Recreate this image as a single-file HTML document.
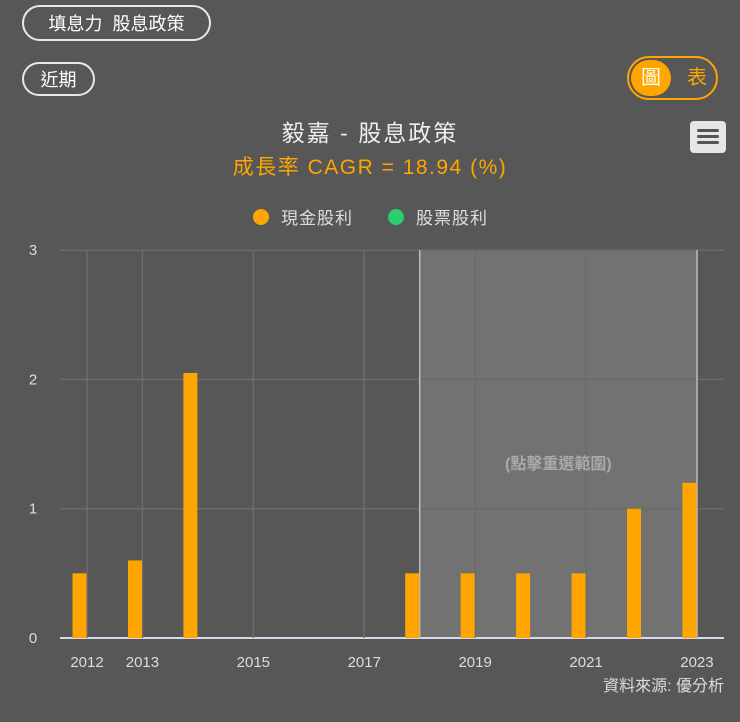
<!DOCTYPE html>
<html><head><meta charset="utf-8"><style>
body{margin:0;width:740px;height:722px;background:#575757;font-family:"Liberation Sans","Noto Sans CJK TC",sans-serif;overflow:hidden;position:relative;color:#fff}
.pill{position:absolute;border:2px solid #e8e8e8;border-radius:18px;color:#fff;font-size:18px;box-sizing:border-box;display:flex;align-items:center;justify-content:center}
</style></head><body>
<div class="pill" style="left:22px;top:5px;width:189px;height:36px">填息力&nbsp;&nbsp;股息政策</div>
<div class="pill" style="left:22px;top:62px;width:73px;height:34px">近期</div>
<div style="position:absolute;left:627px;top:56px;width:91px;height:44px;border:2px solid #ffa500;border-radius:22px;box-sizing:border-box">
 <div style="position:absolute;left:2px;top:2px;width:40px;height:36px;border-radius:18px;background:#ffa500;color:#fff;font-size:20px;text-align:center;line-height:36px">圖</div>
 <div style="position:absolute;left:48px;top:2px;width:40px;height:36px;color:#ffa500;font-size:20px;text-align:center;line-height:36px">表</div>
</div>
<div style="position:absolute;left:0;width:740px;top:114px;text-align:center;font-size:23px;letter-spacing:2px;color:#eee">毅嘉 - 股息政策</div>
<div style="position:absolute;left:0;width:740px;top:151px;text-align:center;font-size:21px;letter-spacing:1.5px;color:#ffa500">成長率 CAGR = 18.94 (%)</div>
<div style="position:absolute;left:690px;top:121px;width:36px;height:32px;background:#e6e6e6;border-radius:4px">
 <div style="position:absolute;left:7px;top:8px;width:22px;height:3px;background:#555;border-radius:2px"></div>
 <div style="position:absolute;left:7px;top:14px;width:22px;height:3px;background:#555;border-radius:2px"></div>
 <div style="position:absolute;left:7px;top:20px;width:22px;height:3px;background:#555;border-radius:2px"></div>
</div>
<div style="position:absolute;left:253px;top:204px;font-size:17px;letter-spacing:1px;color:#ddd;display:flex;align-items:center"><span style="width:16px;height:16px;border-radius:50%;background:#ffa500;display:inline-block;margin-right:12px"></span>現金股利</div>
<div style="position:absolute;left:388px;top:204px;font-size:17px;letter-spacing:1px;color:#ddd;display:flex;align-items:center"><span style="width:16px;height:16px;border-radius:50%;background:#2ecc71;display:inline-block;margin-right:12px"></span>股票股利</div>
<svg id="chart" width="740" height="722" style="position:absolute;left:0;top:0"></svg>
<div style="position:absolute;right:16px;top:672px;font-size:16px;color:#ddd">資料來源: 優分析</div>
<script>
const years=[2012,2013,2014,2015,2016,2017,2018,2019,2020,2021,2022,2023];
const cashDiv=[0.5,0.6,2.05,0,0,0,0.5,0.5,0.5,0.5,1.0,1.2];
const stockDiv=[0,0,0,0,0,0,0,0,0,0,0,0];
const yTicks=[0,1,2,3];
const xLabelYears=[2012,2013,2015,2017,2019,2021,2023];
const selStart=2018, selEnd=2023;
const svg=document.getElementById('chart');const NS='http://www.w3.org/2000/svg';
const x0=87,dx=55.45,yb=638,yu=129.3;
const X=y=>x0+(y-2012)*dx, Y=v=>yb-v*yu;
function el(t,a){const e=document.createElementNS(NS,t);for(const k in a)e.setAttribute(k,a[k]);svg.appendChild(e);return e;}
let r=el('rect',{x:X(selStart),y:Y(3),width:X(selEnd)-X(selStart),height:yb-Y(3),fill:'#727272'});


yTicks.forEach(t=>{
 const l=el('line',{x1:60,x2:724,y1:Y(t),y2:Y(t),stroke:t===0?'#d8d8e8':'#6a6a6a','stroke-width':t===0?2:1.5});
 
 
 const tx=el('text',{x:33,y:Y(t)+5,fill:'#ddd','font-size':15,'text-anchor':'middle'});tx.textContent=t;
 
 
});
xLabelYears.forEach(yr=>{
 const l=el('line',{x1:X(yr),x2:X(yr),y1:Y(3),y2:yb,stroke:'#6c6c6c','stroke-width':1.5});
 
 
 const tx=el('text',{x:X(yr),y:667,fill:'#ddd','font-size':15,'text-anchor':'middle'});tx.textContent=yr;
 
 
});
[selStart,selEnd].forEach(yr=>{
 const l=el('line',{x1:X(yr),x2:X(yr),y1:Y(3),y2:yb,stroke:'#bbb','stroke-width':1.5});
 
 
});
const hint=el('text',{x:(X(selStart)+X(selEnd))/2,y:469,fill:'#aaa','font-size':16,'text-anchor':'middle','font-weight':'bold'});hint.textContent='(點擊重選範圍)';


years.forEach((yr,i)=>{
 const v=cashDiv[i];if(v<=0)return;
 const b=el('rect',{x:X(yr)-14.5,y:Y(v),width:14,height:yb-Y(v),fill:'#ffa500'});
 
 
});
years.forEach((yr,i)=>{
 const v=stockDiv[i];if(v<=0)return;
 const b=el('rect',{x:X(yr)+0.5,y:Y(v),width:14,height:yb-Y(v),fill:'#2ecc71'});
 
 
});
</script>
</body></html>
